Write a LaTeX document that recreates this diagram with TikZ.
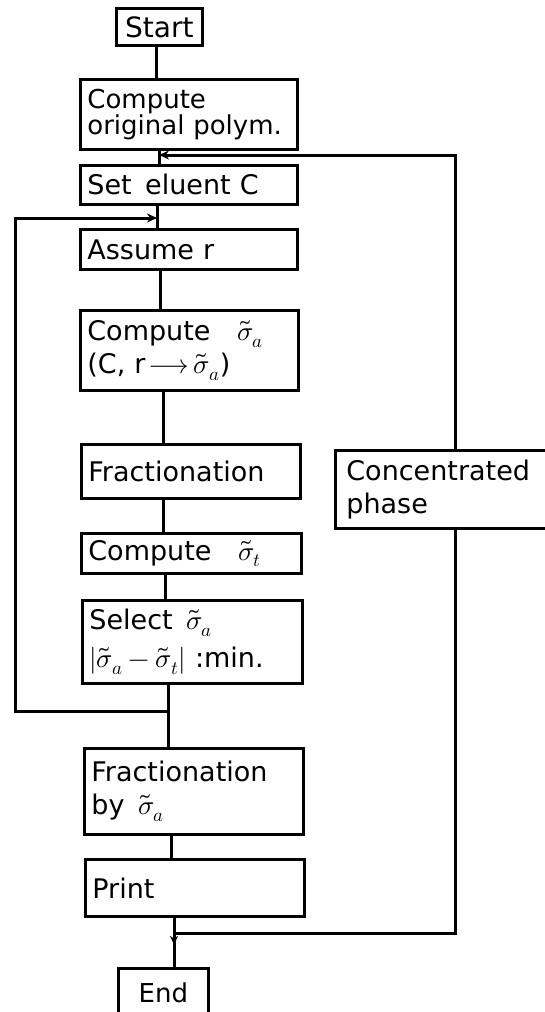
\documentclass[tikz,border=0pt]{standalone}
\usepackage{fontspec}
\usepackage{unicode-math}
\setmainfont{DejaVu Sans}
\setmathfont{Latin Modern Math}
\usetikzlibrary{arrows.meta,decorations.markings}
\begin{document}
\begin{tikzpicture}[x=1pt,y=-1pt,
  box/.style={draw, line width=2.8pt, anchor=north west, inner xsep=7pt, inner ysep=0pt, align=left, font=\fontsize{27}{33}\selectfont},
  cbox/.style={draw, line width=2.8pt, anchor=north west, inner sep=0pt, align=center, font=\fontsize{28}{33}\selectfont},
  wire/.style={line width=3pt},
  merge/.style={wire, -{Stealth[length=10pt,width=9pt]}},
  midarrow/.style={postaction={decorate, decoration={markings, mark=at position 0.55 with {\arrow{Stealth[length=9pt,width=8pt]}}}}}]
\useasboundingbox (0,0) rectangle (544,1012);
% boxes
\node[cbox, minimum width=86pt, minimum height=37pt] (start) at (115,7) {Start};
\node[box, text width=203pt, minimum height=70pt, font=\fontsize{26}{25}\selectfont] (orig) at (79,78) {Compute\\original polym.};
\node[box, text width=203pt, minimum height=39pt] (setc) at (79,164) {Set\, eluent C};
\node[box, text width=203pt, minimum height=40pt] (assume) at (79,228) {Assume r};
\node[box, text width=204pt, minimum height=80pt] (csa) at (79,309) {Compute\quad$\tilde\sigma_a$\\(C, r\,$\longrightarrow$\,$\tilde\sigma_a$)};
\node[box, text width=205pt, minimum height=54pt] (frac) at (80,443) {Fractionation};
\node[box, text width=206pt, minimum height=40pt] (cst) at (80,532) {Compute\quad$\tilde\sigma_t$};
\node[box, text width=206pt, minimum height=83pt, font=\fontsize{27}{38}\selectfont] (sel) at (81,599) {Select\enspace$\tilde\sigma_a$\\$|\tilde\sigma_a - \tilde\sigma_t|$ :min.};
\node[box, text width=205pt, minimum height=86pt] (fby) at (83,747) {Fractionation\\by\enspace$\tilde\sigma_a$};
\node[box, text width=205pt, minimum height=57pt] (print) at (84,858) {Print};
\node[cbox, minimum width=90pt, minimum height=48pt, font=\fontsize{26}{30}\selectfont] (end) at (117,967) {End};
\node[box, inner xsep=11pt, text width=210pt, minimum height=78pt] (conc) at (334,449) {Concentrated\\phase};
% spine x positions
\foreach \n/\x in {s1/156, s2/159, s3/157, s4/160, s5/163, s6/163, s7/165, s8/168, s9/171, s10/174}
  \coordinate (\n) at (\x,0);
\coordinate (rx) at (455,0);
\coordinate (j1) at (159,155);
\coordinate (j2) at (157,218);
\coordinate (j3) at (168,711);
\coordinate (j4) at (174,933);
\coordinate (lc1) at (15,711);
\coordinate (lc2) at (15,218);
% main flow
\draw[wire] (start.south -| s1) -- (orig.north -| s1);
\draw[wire] (orig.south -| s2) -- (setc.north -| s2);
\draw[wire] (setc.south -| s3) -- (assume.north -| s3);
\draw[wire] (assume.south -| s4) -- (csa.north -| s4);
\draw[wire] (csa.south -| s5) -- (frac.north -| s5);
\draw[wire] (frac.south -| s6) -- (cst.north -| s6);
\draw[wire] (cst.south -| s7) -- (sel.north -| s7);
\draw[wire] (sel.south -| s8) -- (fby.north -| s8);
\draw[wire] (fby.south -| s9) -- (print.north -| s9);
\draw[wire, midarrow] (print.south -| s10) -- (end.north -| s10);
% loops
\draw[merge] (j3) -- (lc1) -- (lc2) -- (j2);
\draw[wire] (j4) -| (conc.south -| rx);
\draw[merge] (conc.north -| rx) |- (j1);
\end{tikzpicture}
\end{document}
